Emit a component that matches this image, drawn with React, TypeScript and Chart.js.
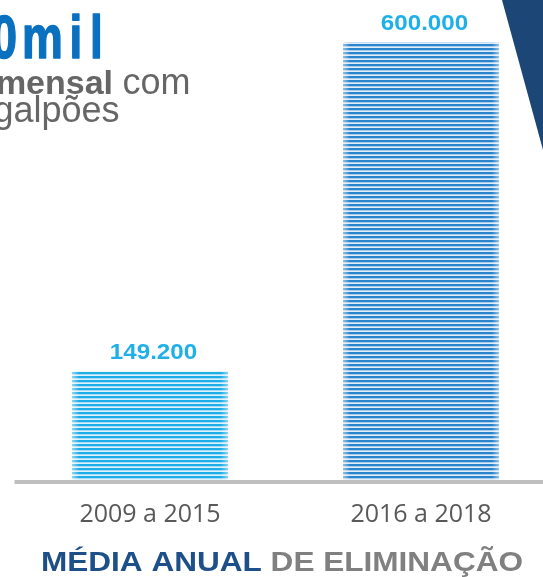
import React, { useEffect, useRef } from "react";
import { Chart, registerables } from "chart.js";

Chart.register(...registerables);

// ---- data ----
const categories: string[] = ["2009 a 2015", "2016 a 2018"];
const eliminationValues: number[] = [149200, 600000];
const valueLabels: string[] = ["149.200", "600.000"];
const yAxisMax = 650000;

// ---- texts ----
const headlineChars: string[] = ["0", "m", "i", "l"];
const subtitleBold = "mensal ";
const subtitleRegular = "com";
const subtitleLine2 = "galpões";
const titleBlue = "MÉDIA ANUAL ";
const titleGray = "DE ELIMINAÇÃO";

const CANVAS_W = 560;
const CANVAS_H = 577;
const SANS = '"Liberation Sans", Arial, Helvetica, sans-serif';

function makeStripe(ctx: CanvasRenderingContext2D, dark: string, mid: string, light: string) {
  const c = document.createElement("canvas");
  c.width = 8;
  c.height = 4;
  const g = c.getContext("2d")!;
  g.fillStyle = dark;
  g.fillRect(0, 0, 8, 2);
  g.fillStyle = mid;
  g.fillRect(0, 2, 8, 1);
  g.fillStyle = light;
  g.fillRect(0, 3, 8, 1);
  return ctx.createPattern(c, "repeat")!;
}

const barDecorPlugin = {
  id: "barDecor",
  afterDatasetsDraw(chart: any) {
    const ctx: CanvasRenderingContext2D = chart.ctx;
    const meta = chart.getDatasetMeta(0);
    const area = chart.chartArea;
    ctx.save();
    meta.data.forEach((bar: any) => {
      const props = bar.getProps(["x", "y", "base", "width"], true);
      const left = props.x - props.width / 2;
      const right = props.x + props.width / 2;
      const h = props.base - props.y;
      const gl = ctx.createLinearGradient(left, 0, left + 7, 0);
      gl.addColorStop(0, "rgba(255,255,255,0.5)");
      gl.addColorStop(1, "rgba(255,255,255,0)");
      ctx.fillStyle = gl;
      ctx.fillRect(left, props.y, 7, h);
      const gr = ctx.createLinearGradient(right - 7, 0, right, 0);
      gr.addColorStop(0, "rgba(255,255,255,0)");
      gr.addColorStop(1, "rgba(255,255,255,0.5)");
      ctx.fillStyle = gr;
      ctx.fillRect(right - 7, props.y, 7, h);
      ctx.fillStyle = "rgba(255,255,255,0.35)";
      ctx.fillRect(left, props.y, props.width, 1);
    });
    // baseline
    ctx.strokeStyle = "#bfbfbf";
    ctx.lineWidth = 4;
    ctx.beginPath();
    ctx.moveTo(area.left, area.bottom + 2);
    ctx.lineTo(area.right, area.bottom + 2);
    ctx.stroke();
    // value labels
    ctx.font = `bold 22px ${SANS}`;
    ctx.fillStyle = "#1fb0e8";
    ctx.textAlign = "center";
    ctx.textBaseline = "alphabetic";
    meta.data.forEach((bar: any, i: number) => {
      ctx.save();
      ctx.translate(bar.x + 3.5, bar.y - 12.5);
      ctx.scale(1.1, 1);
      ctx.fillText(valueLabels[i], 0, 0);
      ctx.restore();
    });
    ctx.restore();
  },
  afterDraw(chart: any) {
    const ctx: CanvasRenderingContext2D = chart.ctx;
    ctx.save();
    // dark triangle, top right
    ctx.fillStyle = "#1b4676";
    ctx.beginPath();
    ctx.moveTo(502, 0);
    ctx.lineTo(CANVAS_W, 0);
    ctx.lineTo(CANVAS_W, 120);
    ctx.lineTo(543, 150);
    ctx.closePath();
    ctx.fill();

    // headline (cropped), each glyph placed
    ctx.fillStyle = "#0a70c0";
    ctx.strokeStyle = "#0a70c0";
    ctx.lineWidth = 1.6;
    ctx.lineJoin = "round";
    ctx.font = `bold 62px ${SANS}`;
    ctx.textAlign = "left";
    ctx.textBaseline = "alphabetic";
    const origins = [-8.5, 22, 69.5, 90.1];
    headlineChars.forEach((ch, i) => {
      ctx.save();
      ctx.translate(origins[i], 57.5);
      ctx.scale(0.74, 1);
      ctx.fillText(ch, 0, 0);
      ctx.strokeText(ch, 0, 0);
      ctx.restore();
    });

    // subtitle lines
    ctx.fillStyle = "#666666";
    ctx.font = `36px ${SANS}`;
    ctx.textAlign = "left";
    ctx.fillText(subtitleRegular, 122.5, 94);
    ctx.font = `bold 34px ${SANS}`;
    ctx.textAlign = "right";
    ctx.fillText(subtitleBold, 122.5, 94);
    ctx.font = `36px ${SANS}`;
    ctx.textAlign = "right";
    ctx.fillText(subtitleLine2, 119.5, 122);

    // bottom title, two colours
    ctx.font = `bold 27px ${SANS}`;
    ctx.textAlign = "left";
    const full = titleBlue + titleGray;
    const w = ctx.measureText(full).width;
    const k = 482 / w;
    ctx.translate(282, 571);
    ctx.scale(k, 1);
    const x0 = -w / 2;
    ctx.fillStyle = "#1d4f88";
    ctx.fillText(titleBlue, x0, 0);
    ctx.fillStyle = "#808080";
    ctx.fillText(titleGray, x0 + ctx.measureText(titleBlue).width, 0);
    ctx.restore();
  },
};

export default function App() {
  const canvasRef = useRef<HTMLCanvasElement | null>(null);

  useEffect(() => {
    document.body.style.margin = "0";
    const canvas = canvasRef.current!;
    const ctx = canvas.getContext("2d")!;
    const patterns = [
      makeStripe(ctx, "#1caee8", "#a6dcf3", "#dff2fb"),
      makeStripe(ctx, "#2884cc", "#a9cbea", "#e0ecf7"),
    ];
    const chart = new Chart(ctx, {
      type: "bar",
      data: {
        labels: categories,
        datasets: [
          {
            data: eliminationValues,
            backgroundColor: patterns as any,
            borderWidth: 0,
            categoryPercentage: 1,
            barPercentage: 0.5756,
          },
        ],
      },
      options: {
        responsive: false,
        animation: false,
        devicePixelRatio: 1,
        layout: { padding: { left: 14.5, right: 3.5, top: 5.5, bottom: 49 } },
        plugins: {
          legend: { display: false },
          tooltip: { enabled: false },
          title: { display: false },
        },
        scales: {
          x: {
            grid: { display: false, drawTicks: false },
            border: { display: false },
            afterFit: (scale: any) => {
              scale.height = 48;
            },
            ticks: {
              padding: 20,
              color: "#595959",
              font: { family: '"Open Sans", sans-serif', size: 25 },
              maxRotation: 0,
            },
          },
          y: {
            display: false,
            min: 0,
            max: yAxisMax,
          },
        },
      },
      plugins: [barDecorPlugin],
    });
    return () => chart.destroy();
  }, []);

  return (
    <div style={{ width: 543, height: CANVAS_H, overflow: "hidden", position: "relative", background: "#ffffff" }}>
      <canvas
        ref={canvasRef}
        width={CANVAS_W}
        height={CANVAS_H}
        style={{ display: "block", width: CANVAS_W, height: CANVAS_H }}
      />
    </div>
  );
}
